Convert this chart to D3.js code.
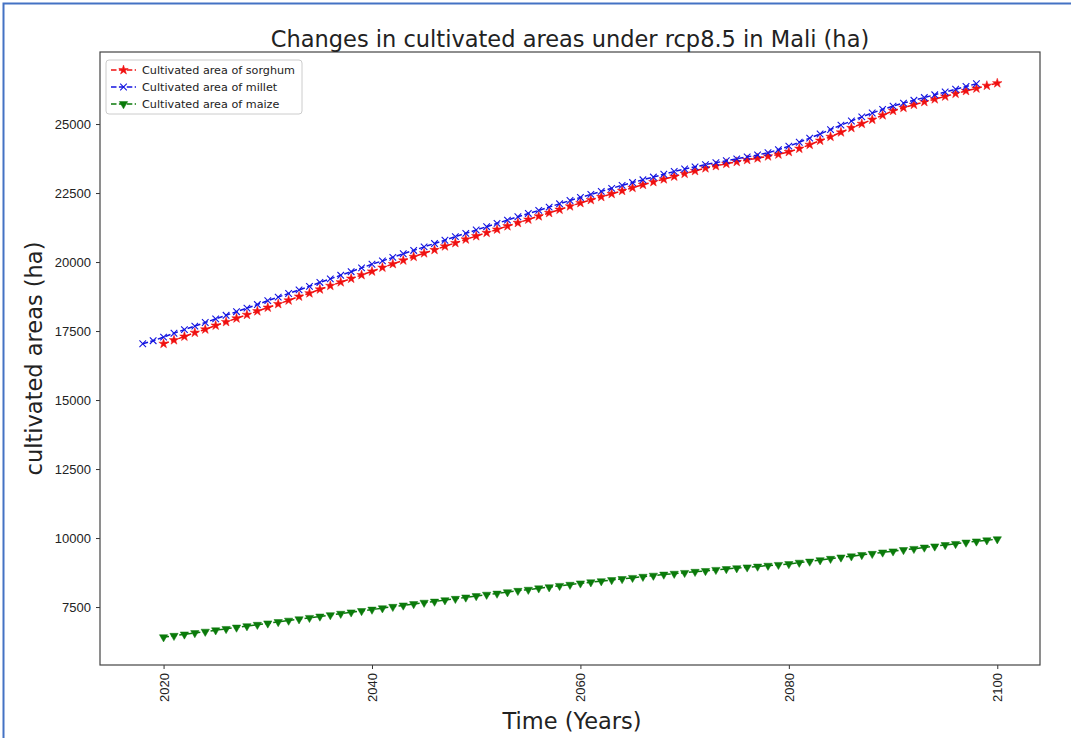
<!DOCTYPE html>
<html>
<head>
<meta charset="utf-8">
<script src="https://cdn.jsdelivr.net/npm/d3@7"></script>
<style>
  body { margin: 0; background: #fff; }
  svg { font-family: "DejaVu Sans", sans-serif; }
</style>
</head>
<body>
<svg id="chart" width="1071" height="738"></svg>
<script>
// years for each series
const sorghumYears = d3.range(2020, 2101);
const milletYears = d3.range(2018, 2099);
const maizeYears = d3.range(2020, 2101);

const sorghum = [
  17040, 17170, 17300, 17440, 17560, 17700, 17830, 17960, 18090, 18220,
  18350, 18480, 18610, 18750, 18870, 19010, 19140, 19270, 19400, 19530,
  19660, 19800, 19930, 20060, 20190, 20320, 20440, 20570, 20690, 20820,
  20940, 21060, 21180, 21300, 21420, 21540, 21660, 21780, 21900, 22020,
  22140, 22250, 22360, 22470, 22580, 22690, 22800, 22900, 23000, 23100,
  23200, 23300, 23400, 23480, 23560, 23630, 23700, 23760, 23830, 23900,
  23990, 24110, 24250, 24400, 24540, 24700, 24860, 25010, 25160, 25320,
  25480, 25590, 25700, 25800, 25900, 26000, 26100, 26200, 26290, 26390,
  26480
];

const millet = [
  17040, 17150, 17280, 17420, 17550, 17680, 17810, 17940, 18070, 18200,
  18330, 18460, 18600, 18730, 18860, 18990, 19120, 19260, 19390, 19520,
  19650, 19790, 19920, 20040, 20170, 20300, 20420, 20550, 20670, 20790,
  20920, 21040, 21160, 21280, 21400, 21520, 21640, 21760, 21870, 21990,
  22110, 22230, 22340, 22450, 22560, 22670, 22780, 22880, 22980, 23080,
  23180, 23280, 23370, 23450, 23530, 23600, 23670, 23740, 23810, 23880,
  23960, 24070, 24200, 24340, 24490, 24640, 24800, 24960, 25110, 25260,
  25400, 25530, 25650, 25760, 25860, 25960, 26060, 26160, 26260, 26360,
  26460
];

const maize = [
  6410, 6460, 6510, 6560, 6610, 6660, 6710, 6760, 6810, 6860,
  6910, 6960, 7010, 7060, 7110, 7160, 7210, 7260, 7310, 7360,
  7410, 7460, 7510, 7560, 7610, 7660, 7700, 7750, 7800, 7850,
  7900, 7950, 7990, 8040, 8090, 8130, 8180, 8220, 8270, 8310,
  8360, 8400, 8440, 8480, 8520, 8560, 8600, 8640, 8680, 8710,
  8740, 8780, 8810, 8850, 8880, 8910, 8940, 8970, 9000, 9030,
  9060, 9110, 9150, 9200, 9250, 9300, 9340, 9390, 9430, 9480,
  9520, 9570, 9610, 9660, 9700, 9750, 9790, 9840, 9880, 9920,
  9960
];

const xTicks = [2020, 2040, 2060, 2080, 2100];
const yTicks = [7500, 10000, 12500, 15000, 17500, 20000, 22500, 25000];

const series = [
  { name: "Cultivated area of sorghum", years: sorghumYears, values: sorghum, color: "#f01010", marker: "star" },
  { name: "Cultivated area of millet", years: milletYears, values: millet, color: "#1515e0", marker: "x" },
  { name: "Cultivated area of maize", years: maizeYears, values: maize, color: "#0a7a0a", marker: "tri" }
];

const svg = d3.select("#chart");
const margin = { left: 100, right: 31, top: 52, bottom: 73 };
const width = 1071, height = 738;

// blue frame around the picture
svg.append("path")
  .attr("d", `M3.5,${height} L3.5,3.5 L${width},3.5`)
  .attr("fill", "none")
  .attr("stroke", "#4472c4")
  .attr("stroke-width", 2);

const x = d3.scaleLinear()
  .domain([2013.9, 2104.1])
  .range([margin.left, width - margin.right]);

const y = d3.scaleLinear()
  .domain([5400, 27610])
  .range([height - margin.bottom, margin.top]);

const xAxis = (g) => g
  .attr("transform", `translate(0,${height - margin.bottom})`)
  .attr("font-family", "DejaVu Sans, sans-serif")
  .call(d3.axisBottom(x).tickValues(xTicks).tickFormat(d3.format("d")).tickSize(4).tickPadding(3))
  .call((g) => g.select(".domain").remove())
  .call((g) => g.selectAll("line").attr("stroke", "#333"))
  .call((g) => g.selectAll("text")
    .attr("transform", "rotate(-90)")
    .attr("text-anchor", "end")
    .attr("dy", "0.35em")
    .attr("x", -8)
    .attr("y", 0)
    .attr("font-size", 13)
    .attr("fill", "#222"));

const yAxis = (g) => g
  .attr("transform", `translate(${margin.left},0)`)
  .attr("font-family", "DejaVu Sans, sans-serif")
  .call(d3.axisLeft(y).tickValues(yTicks).tickFormat(d3.format("d")).tickSize(4).tickPadding(5))
  .call((g) => g.select(".domain").remove())
  .call((g) => g.selectAll("line").attr("stroke", "#333"))
  .call((g) => g.selectAll("text").attr("font-size", 13).attr("fill", "#222"));

svg.append("g").call(xAxis);
svg.append("g").call(yAxis);

const symbolFor = (m) => {
  if (m === "star") return d3.symbol(d3.symbolStar, 28);
  if (m === "x") return d3.symbol(d3.symbolTimes, 30);
  return d3.symbol(d3.symbolTriangle, 30);
};

const drawMarker = (sel, s) => {
  sel.attr("d", symbolFor(s.marker)());
  if (s.marker === "x") {
    sel.attr("fill", "none").attr("stroke", s.color).attr("stroke-width", 1.1);
  } else {
    sel.attr("fill", s.color).attr("stroke", s.color).attr("stroke-width", 0.5);
  }
};

const line = d3.line().x((d) => x(d[0])).y((d) => y(d[1]));

series.forEach((s) => {
  const pts = s.years.map((yr, i) => [yr, s.values[i]]);
  svg.append("path")
    .datum(pts)
    .attr("d", line)
    .attr("fill", "none")
    .attr("stroke", s.color)
    .attr("stroke-width", 1.5)
    .attr("stroke-dasharray", "5.5,2.4");
  svg.append("g").selectAll("path").data(pts).join("path")
    .attr("transform", (d) => `translate(${x(d[0])},${y(d[1])})${s.marker === "tri" ? " rotate(180)" : ""}`)
    .call(drawMarker, s);
});

// plot frame
svg.append("rect")
  .attr("x", margin.left)
  .attr("y", margin.top)
  .attr("width", width - margin.left - margin.right)
  .attr("height", height - margin.top - margin.bottom)
  .attr("fill", "none")
  .attr("stroke", "#444")
  .attr("stroke-width", 1.2);

// legend
const legend = svg.append("g").attr("transform", "translate(106,60)");
legend.append("rect")
  .attr("width", 196).attr("height", 54).attr("rx", 3)
  .attr("fill", "#fff").attr("fill-opacity", 0.8)
  .attr("stroke", "#ccc");
series.forEach((s, i) => {
  const row = legend.append("g").attr("transform", `translate(0,${10 + i * 17})`);
  row.append("line")
    .attr("x1", 5).attr("x2", 30)
    .attr("stroke", s.color).attr("stroke-width", 1.5)
    .attr("stroke-dasharray", "5.5,2.4");
  row.append("path")
    .attr("transform", `translate(17.5,0)${s.marker === "tri" ? " rotate(180)" : ""}`)
    .call(drawMarker, s);
  row.append("text")
    .attr("x", 36).attr("dy", "0.35em")
    .attr("font-size", 11.2).attr("fill", "#222")
    .text(s.name);
});

svg.append("text")
  .attr("x", 570)
  .attr("y", 47)
  .attr("text-anchor", "middle")
  .attr("font-size", 22.5)
  .attr("fill", "#222")
  .text("Changes in cultivated areas under rcp8.5 in Mali (ha)");

svg.append("text")
  .attr("x", 572)
  .attr("y", 729)
  .attr("text-anchor", "middle")
  .attr("font-size", 22.5)
  .attr("fill", "#222")
  .text("Time (Years)");

svg.append("text")
  .attr("transform", `translate(42,${(margin.top + height - margin.bottom) / 2}) rotate(-90)`)
  .attr("text-anchor", "middle")
  .attr("font-size", 22.5)
  .attr("fill", "#222")
  .text("cultivated areas (ha)");
</script>
</body>
</html>
